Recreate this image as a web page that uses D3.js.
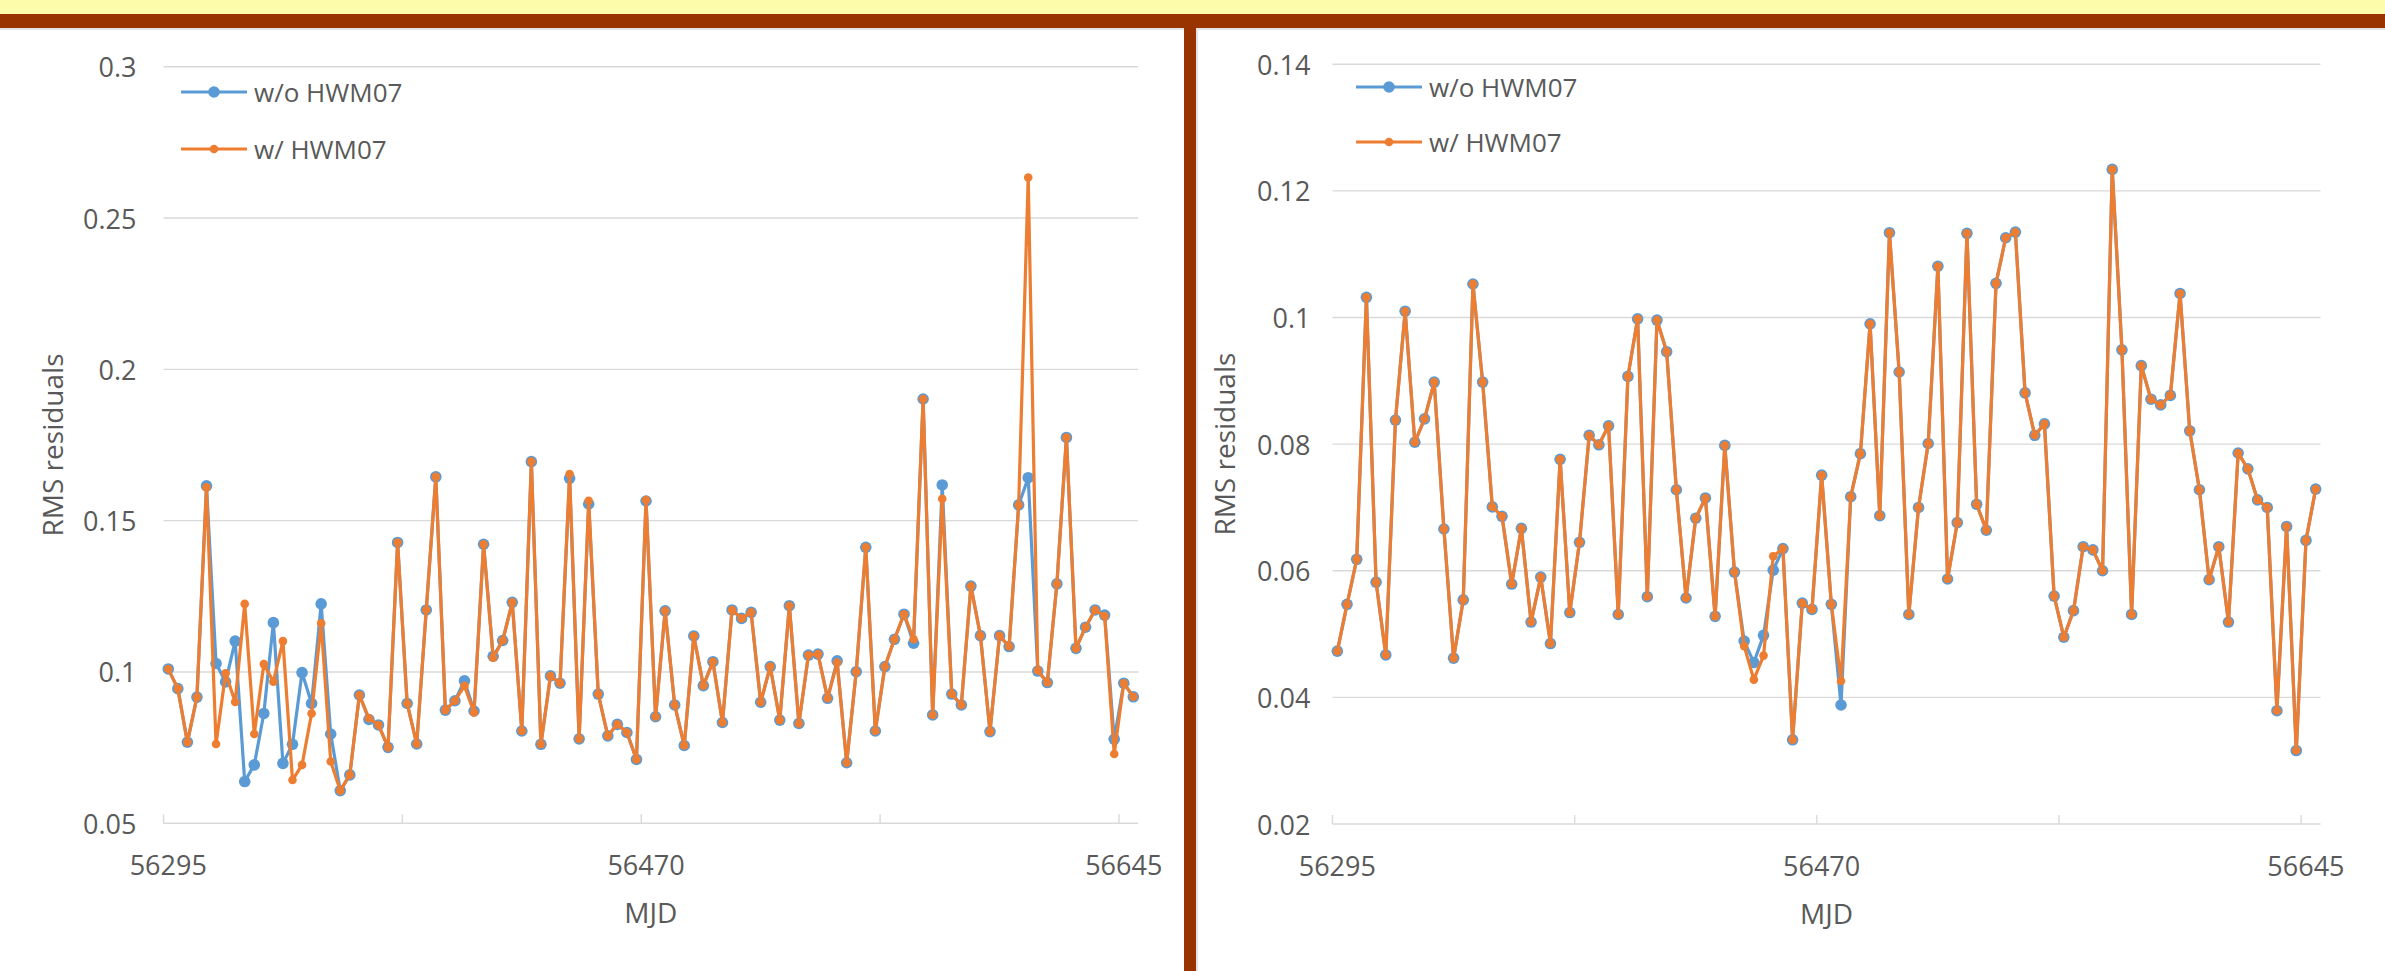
<!DOCTYPE html>
<html>
<head>
<meta charset="utf-8">
<script src="https://cdn.jsdelivr.net/npm/d3@7"></script>
<style>
  html, body { margin: 0; padding: 0; background: #ffffff; }
  svg { display: block; }
  text { font-family: "Open Sans", "Noto Sans", sans-serif; fill: #595959; }
</style>
</head>
<body>
<svg id="chart" width="2385" height="971"></svg>
<script>
// ---------------- DATA ----------------
const seriesNames = ["w/o HWM07", "w/ HWM07"];
const xTickLabels = ["56295", "56470", "56645"];
const xTickIndex = [0, 50, 100];
const yTicksLeft = [0.05, 0.1, 0.15, 0.2, 0.25, 0.3];
const yTicksRight = [0.02, 0.04, 0.06, 0.08, 0.1, 0.12, 0.14];
const yAxisTitle = "RMS residuals";
const xAxisTitle = "MJD";

const leftWithout = [
  0.101, 0.0945, 0.0768, 0.0917, 0.1615, 0.1028, 0.0967, 0.1102, 0.0638, 0.0693,
  0.0863, 0.1163, 0.0698, 0.0761, 0.0998, 0.0896, 0.1225, 0.0795, 0.0608, 0.066,
  0.0924, 0.0843, 0.0825, 0.0751, 0.1428, 0.0896, 0.0762, 0.1205, 0.1645, 0.0874,
  0.0905, 0.0971, 0.0871, 0.1422, 0.1052, 0.1104, 0.123, 0.0805, 0.1695, 0.0761,
  0.0987, 0.0963, 0.164, 0.0779, 0.1555, 0.0927, 0.0789, 0.0827, 0.08, 0.0711,
  0.1565, 0.0852, 0.1202, 0.0891, 0.0757, 0.1119, 0.0955, 0.1034, 0.0833, 0.1205,
  0.1177, 0.1197, 0.09, 0.1018, 0.0841, 0.1219, 0.083, 0.1056, 0.1059, 0.0913,
  0.1037, 0.07, 0.1001, 0.1412, 0.0805, 0.1018, 0.1108, 0.1191, 0.1095, 0.1902,
  0.0858, 0.1618, 0.0927, 0.0891, 0.1284, 0.112, 0.0803, 0.112, 0.1084, 0.1552,
  0.1642, 0.1003, 0.0965, 0.1291, 0.1775, 0.1078, 0.1148, 0.1205, 0.1188, 0.0778,
  0.0963, 0.0918
];
const leftWith = [
  0.101, 0.0945, 0.0768, 0.0917, 0.161, 0.0762, 0.0996, 0.0901, 0.1225, 0.0795,
  0.1026, 0.0968, 0.1102, 0.0643, 0.0693, 0.0863, 0.1161, 0.0704, 0.0608, 0.066,
  0.0924, 0.0847, 0.0825, 0.0751, 0.1428, 0.0896, 0.0762, 0.1205, 0.1645, 0.0874,
  0.0905, 0.0954, 0.0866, 0.1422, 0.1047, 0.1104, 0.123, 0.0805, 0.1695, 0.0761,
  0.0987, 0.0963, 0.1654, 0.0779, 0.1566, 0.0927, 0.0789, 0.0827, 0.08, 0.0711,
  0.1568, 0.0852, 0.1202, 0.0891, 0.0757, 0.1119, 0.0955, 0.1034, 0.0833, 0.1205,
  0.1177, 0.1197, 0.09, 0.1018, 0.0841, 0.1219, 0.083, 0.1056, 0.1059, 0.0913,
  0.1031, 0.07, 0.1001, 0.1412, 0.0805, 0.1018, 0.1108, 0.1191, 0.1108, 0.1902,
  0.0858, 0.1572, 0.0927, 0.0891, 0.1284, 0.112, 0.0803, 0.112, 0.1084, 0.1552,
  0.2634, 0.1005, 0.0965, 0.1291, 0.1775, 0.1078, 0.1148, 0.1205, 0.1185, 0.0729,
  0.0963, 0.0918
];
const rightWithout = [
  0.0473, 0.0547, 0.0618, 0.1032, 0.0582, 0.0467, 0.0838, 0.101, 0.0803, 0.084,
  0.0898, 0.0666, 0.0462, 0.0554, 0.1053, 0.0898, 0.0701, 0.0686, 0.0579, 0.0667,
  0.0519, 0.059, 0.0485, 0.0776, 0.0534, 0.0645, 0.0814, 0.0799, 0.0829, 0.0531,
  0.0907, 0.0998, 0.0559, 0.0996, 0.0946, 0.0728, 0.0557, 0.0683, 0.0715, 0.0528,
  0.0798, 0.0598, 0.0489, 0.0455, 0.0498, 0.0601, 0.0635, 0.0333, 0.0549, 0.0539,
  0.0751, 0.0547, 0.0388, 0.0717, 0.0785, 0.099, 0.0687, 0.1134, 0.0914, 0.0531,
  0.07, 0.0801, 0.1081, 0.0587, 0.0676, 0.1133, 0.0705, 0.0664, 0.1054, 0.1126,
  0.1135, 0.0881, 0.0814, 0.0832, 0.056, 0.0495, 0.0537, 0.0638, 0.0633, 0.06,
  0.1234, 0.0949, 0.0531, 0.0924, 0.0871, 0.0862, 0.0877, 0.1038, 0.0821, 0.0728,
  0.0586, 0.0638, 0.0519, 0.0786, 0.0761, 0.0712, 0.07, 0.0379, 0.067, 0.0316,
  0.0648, 0.0729
];
const rightWith = [
  0.0473, 0.0547, 0.0618, 0.1032, 0.0582, 0.0467, 0.0838, 0.101, 0.0803, 0.084,
  0.0898, 0.0666, 0.0462, 0.0554, 0.1053, 0.0898, 0.0701, 0.0686, 0.0579, 0.0667,
  0.0519, 0.059, 0.0485, 0.0776, 0.0534, 0.0645, 0.0814, 0.0799, 0.0829, 0.0531,
  0.0907, 0.0998, 0.0559, 0.0996, 0.0946, 0.0728, 0.0557, 0.0683, 0.0715, 0.0528,
  0.0798, 0.0598, 0.0481, 0.0428, 0.0466, 0.0623, 0.0635, 0.0333, 0.0549, 0.0539,
  0.0751, 0.0547, 0.0426, 0.0717, 0.0785, 0.099, 0.0687, 0.1134, 0.0914, 0.0531,
  0.07, 0.0801, 0.1081, 0.0587, 0.0676, 0.1133, 0.0705, 0.0664, 0.1054, 0.1126,
  0.1135, 0.0881, 0.0814, 0.0832, 0.056, 0.0495, 0.0537, 0.0638, 0.0633, 0.06,
  0.1234, 0.0949, 0.0531, 0.0924, 0.0871, 0.0862, 0.0877, 0.1038, 0.0821, 0.0728,
  0.0586, 0.0638, 0.0519, 0.0786, 0.0761, 0.0712, 0.07, 0.0379, 0.067, 0.0316,
  0.0648, 0.0729
];

// ---------------- DRAW ----------------
const svg = d3.select("#chart");
const W = 2385, H = 971;
const COL_BLUE = "#5B9BD5", COL_ORANGE = "#ED7D31", GRID = "#D9D9D9";

// page decoration (slide frame)
svg.append("rect").attr("x", 0).attr("y", 0).attr("width", W).attr("height", H).attr("fill", "#ffffff");
svg.append("rect").attr("x", 0).attr("y", 0).attr("width", W).attr("height", 14).attr("fill", "#FDFCAA");
svg.append("rect").attr("x", 0).attr("y", 28).attr("width", W).attr("height", 2).attr("fill", "#e4e4e4");
svg.append("rect").attr("x", 0).attr("y", 14).attr("width", W).attr("height", 14).attr("fill", "#993300");
svg.append("rect").attr("x", 1196).attr("y", 28).attr("width", 2).attr("height", H).attr("fill", "#e4e4e4");
svg.append("rect").attr("x", 1184).attr("y", 14).attr("width", 12).attr("height", H).attr("fill", "#993300");

function drawChart(cfg) {
  const n = cfg.a.length;
  const x = d3.scaleBand().domain(d3.range(n)).range([cfg.x0, cfg.x1]).paddingInner(0).paddingOuter(0);
  const cx = i => x(i) + x.bandwidth() / 2;
  const y = d3.scaleLinear().domain(cfg.yDomain).range([cfg.yB, cfg.yT]);
  const g = svg.append("g");

  // gridlines
  g.append("g").selectAll("line").data(cfg.yTicks.slice(1)).join("line")
    .attr("x1", cfg.x0).attr("x2", cfg.x1)
    .attr("y1", d => y(d)).attr("y2", d => y(d))
    .attr("stroke", GRID).attr("stroke-width", 1.4);

  // y tick labels
  g.append("g").selectAll("text").data(cfg.yTicks).join("text")
    .attr("x", cfg.x0 - cfg.yLabelGap).attr("y", d => y(d))
    .attr("text-anchor", "end").attr("dominant-baseline", "central")
    .attr("font-size", 27)
    .text(d => d3.format("")(+d.toFixed(2)));

  // x axis line + tick marks (every 25 categories, inside)
  g.append("line").attr("x1", cfg.x0).attr("x2", cfg.x1)
    .attr("y1", cfg.yB).attr("y2", cfg.yB)
    .attr("stroke", GRID).attr("stroke-width", 1.4);
  const tickPos = d3.range(0, n + 1, 25).map(k => cfg.x0 + k * x.step());
  g.append("g").selectAll("line").data(tickPos).join("line")
    .attr("x1", d => d).attr("x2", d => d)
    .attr("y1", cfg.yB).attr("y2", cfg.yB - 9)
    .attr("stroke", GRID).attr("stroke-width", 1.4);

  // x tick labels
  g.append("g").selectAll("text").data(xTickIndex).join("text")
    .attr("x", d => cx(d)).attr("y", cfg.yB + 41)
    .attr("text-anchor", "middle").attr("dominant-baseline", "central")
    .attr("font-size", 27)
    .text((d, k) => xTickLabels[k]);

  // axis titles
  g.append("text").attr("x", (cfg.x0 + cfg.x1) / 2).attr("y", cfg.yB + 89)
    .attr("text-anchor", "middle").attr("dominant-baseline", "central")
    .attr("font-size", 28).text(xAxisTitle);
  g.append("text")
    .attr("transform", `translate(${cfg.yTitleX},${(cfg.yT + cfg.yB) / 2}) rotate(-90)`)
    .attr("text-anchor", "middle").attr("dominant-baseline", "central")
    .attr("font-size", 28).text(yAxisTitle);

  // series
  const line = d3.line().x((d, i) => cx(i)).y(d => y(d));
  const series = [
    { v: cfg.a, color: COL_BLUE, r: 5.8 },
    { v: cfg.b, color: COL_ORANGE, r: 4.3 }
  ];
  series.forEach(s => {
    g.append("path").datum(s.v).attr("d", line)
      .attr("fill", "none").attr("stroke", s.color).attr("stroke-width", 3.2)
      .attr("stroke-linejoin", "round");
    g.append("g").selectAll("circle").data(s.v).join("circle")
      .attr("cx", (d, i) => cx(i)).attr("cy", d => y(d)).attr("r", s.r)
      .attr("fill", s.color);
  });

  // legend
  const lg = g.append("g");
  series.forEach((s, k) => {
    const ly = cfg.legY[k];
    lg.append("line").attr("x1", cfg.legX).attr("x2", cfg.legX + 66)
      .attr("y1", ly).attr("y2", ly).attr("stroke", s.color).attr("stroke-width", 3.2);
    lg.append("circle").attr("cx", cfg.legX + 33).attr("cy", ly).attr("r", s.r).attr("fill", s.color);
    lg.append("text").attr("x", cfg.legX + 73).attr("y", ly)
      .attr("dominant-baseline", "central").attr("font-size", 26)
      .text(seriesNames[k]);
  });
}

drawChart({
  a: leftWithout, b: leftWith,
  x0: 163.5, x1: 1138.1, yT: 66.7, yB: 823.3,
  yDomain: [0.05, 0.3], yTicks: yTicksLeft, yLabelGap: 27,
  yTitleX: 52, legX: 181, legY: [92, 149]
});
drawChart({
  a: rightWithout, b: rightWith,
  x0: 1332.5, x1: 2320.5, yT: 64.3, yB: 824,
  yDomain: [0.02, 0.14], yTicks: yTicksRight, yLabelGap: 22,
  yTitleX: 1224, legX: 1356, legY: [87, 142]
});
</script>
</body>
</html>
